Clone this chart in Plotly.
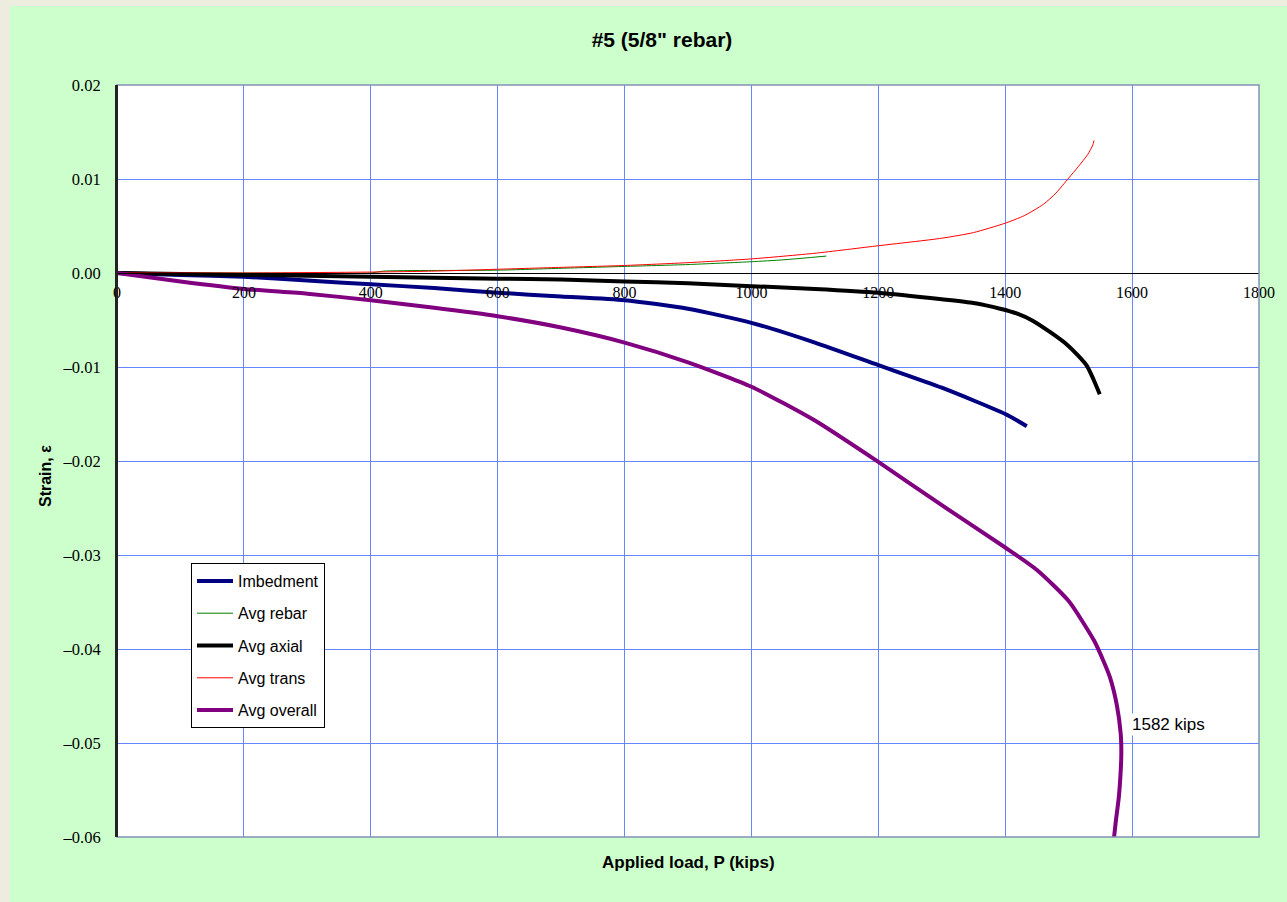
import plotly.graph_objects as go

# ---------------- data ----------------
imb_p = [0, 100, 200, 300, 400, 500, 600, 700, 800, 900, 1000, 1100, 1200, 1300, 1400, 1434]
imb_s = [0, -0.0002, -0.0004, -0.0008, -0.0012, -0.0016, -0.0021, -0.0025, -0.0029, -0.0038,
         -0.0053, -0.0074, -0.0098, -0.0122, -0.0150, -0.0163]

rebar_p = [0, 200, 400, 420, 600, 700, 800, 900, 1000, 1050, 1118]
rebar_s = [0, 0.0, 0.0, 0.0002, 0.0003, 0.0005, 0.0007, 0.0009, 0.0012, 0.0014, 0.0018]

axial_p = [0, 100, 200, 300, 400, 500, 600, 700, 800, 900, 1000, 1100, 1200, 1300, 1350,
           1392, 1418, 1444, 1471, 1497, 1515, 1529, 1539, 1549]
axial_s = [0, -0.0001, -0.0002, -0.0003, -0.0004, -0.0005, -0.0006, -0.0007, -0.0009, -0.0011,
           -0.0014, -0.0017, -0.0021, -0.0028, -0.0032, -0.0038, -0.0043, -0.0051, -0.0063,
           -0.0076, -0.0088, -0.0099, -0.0113, -0.0129]

trans_p = [0, 200, 400, 500, 600, 700, 800, 900, 1000, 1100, 1200, 1300, 1350, 1400, 1430,
           1460, 1480, 1500, 1515, 1530, 1538, 1540]
trans_s = [0, 0.0, 0.0001, 0.0002, 0.0004, 0.0006, 0.0008, 0.0011, 0.0015, 0.0021, 0.0029,
           0.0037, 0.0043, 0.0053, 0.0061, 0.0073, 0.0085, 0.0101, 0.0113, 0.0126, 0.0136, 0.0141]

overall_p = [0, 100, 200, 300, 400, 500, 600, 700, 800, 900, 1000, 1100, 1200, 1300, 1400,
             1450, 1500, 1540, 1555, 1565, 1576, 1582, 1583, 1582, 1579, 1574, 1570]
overall_s = [0, -0.0009, -0.0017, -0.0022, -0.0029, -0.0037, -0.0046, -0.0058, -0.0074,
             -0.0095, -0.0121, -0.0157, -0.0201, -0.0247, -0.0292, -0.0316, -0.0349, -0.0391,
             -0.0413, -0.0430, -0.0460, -0.0490, -0.0510, -0.0530, -0.0558, -0.0585, -0.0610]

x_ticks = [0, 200, 400, 600, 800, 1000, 1200, 1400, 1600, 1800]
y_ticks = [0.02, 0.01, 0.0, -0.01, -0.02, -0.03, -0.04, -0.05, -0.06]
y_tick_text = ["0.02", "0.01", "0.00", "\u20130.01", "\u20130.02", "\u20130.03",
               "\u20130.04", "\u20130.05", "\u20130.06"]

peak_load = 1582
peak_label_strain = -0.048

SANS = "Arial, Liberation Sans, sans-serif"
SERIF = "Liberation Serif, Times New Roman, serif"

# ---------------- figure ----------------
fig = go.Figure()
series = [
    ("Imbedment", imb_p, imb_s, "#000080", 4),
    ("Avg rebar", rebar_p, rebar_s, "#008000", 1),
    ("Avg axial", axial_p, axial_s, "#000000", 4),
    ("Avg trans", trans_p, trans_s, "#FF0000", 1),
    ("Avg overall", overall_p, overall_s, "#800080", 4),
]
for i, (name, xs, ys, col, w) in enumerate(series):
    fig.add_trace(go.Scatter(x=xs, y=ys, mode="lines", name=name,
                             line=dict(color=col, width=w, shape="spline", smoothing=0.6),
                             legendgroup=f"g{i}"))

grid_col = "#6687FF"
W, H = 1287, 902
L, R, T, B = 117, 28, 85, 65
pw, ph = W - L - R, H - T - B

fig.update_layout(
    width=W, height=H,
    margin=dict(l=L, r=R, t=T, b=B, autoexpand=False),
    paper_bgcolor="#CCFFCC",
    plot_bgcolor="#FFFFFF",
    showlegend=True,
    legend=dict(x=(191 - L) / pw, y=(H - B - 563) / ph, xanchor="left", yanchor="top",
                bgcolor="#FFFFFF", bordercolor="#000000", borderwidth=1,
                font=dict(family=SANS, size=16, color="#000000"),
                traceorder="grouped", tracegroupgap=8.5, itemwidth=36),
    xaxis=dict(range=[0, 1800], tickvals=x_ticks, showgrid=True, gridcolor=grid_col,
               gridwidth=1, zeroline=False, anchor="free", position=0.75,
               showline=True, linecolor="#000000", linewidth=1,
               ticks="", ticklabelstandoff=5,
               tickfont=dict(family=SERIF, size=16, color="#000000")),
    yaxis=dict(range=[-0.06, 0.02], tickvals=y_ticks, ticktext=y_tick_text,
               showgrid=True, gridcolor=grid_col, gridwidth=1, zeroline=False,
               showline=True, linecolor="#222222", linewidth=2, ticks="",
               ticklabelstandoff=11,
               tickfont=dict(family=SERIF, size=16.5, color="#000000")),
    title=dict(text="#5 (5/8\" rebar)", x=(662 - L) / pw, xref="paper", xanchor="center",
               y=1 - 40 / H, yanchor="middle",
               font=dict(family=SANS, size=21, color="#000000", weight="bold")),
)

# outer beige strips
fig.add_shape(type="rect", xref="paper", yref="paper",
              x0=-L / pw, x1=(10 - L) / pw, y0=-B / ph - 0.01, y1=(H - B) / ph + 0.01,
              fillcolor="#ECEDDF", line=dict(width=0), layer="below")
fig.add_shape(type="rect", xref="paper", yref="paper",
              x0=-L / pw, x1=(W - L) / pw + 0.01, y0=(H - B - 6) / ph, y1=(H - B) / ph + 0.01,
              fillcolor="#ECEDDF", line=dict(width=0), layer="below")
# plot frame (top/right/bottom grey-blue)
fig.add_shape(type="rect", xref="x domain", yref="y domain", x0=0, x1=1, y0=0, y1=1,
              line=dict(color="#8391B5", width=1.5), fillcolor="rgba(0,0,0,0)", layer="above")
fig.add_shape(type="line", xref="x domain", yref="y domain", x0=0, x1=0, y0=0, y1=1,
              line=dict(color="#222222", width=2), layer="above")

# axis titles
fig.add_annotation(text="<b>Applied load, P (kips)</b>", xref="paper", yref="paper",
                   x=(688 - L) / pw, y=-(862 - (H - B)) / ph, xanchor="center", yanchor="middle",
                   showarrow=False, font=dict(family=SANS, size=17, color="#000000"))
fig.add_annotation(text="<b>Strain, \u03b5</b>", xref="paper", yref="paper",
                   x=(46 - L) / pw, y=(H - B - 476) / ph, xanchor="center", yanchor="middle",
                   textangle=-90, showarrow=False,
                   font=dict(family=SANS, size=16, color="#000000"))

# peak annotation
fig.add_annotation(text=f"{peak_load} kips", x=peak_load, y=peak_label_strain, xref="x", yref="y",
                   xanchor="left", yanchor="middle", xshift=9, showarrow=False,
                   bgcolor="#FFFFFF",
                   font=dict(family=SANS, size=17, color="#000000"))

fig.write_html("out.html")
